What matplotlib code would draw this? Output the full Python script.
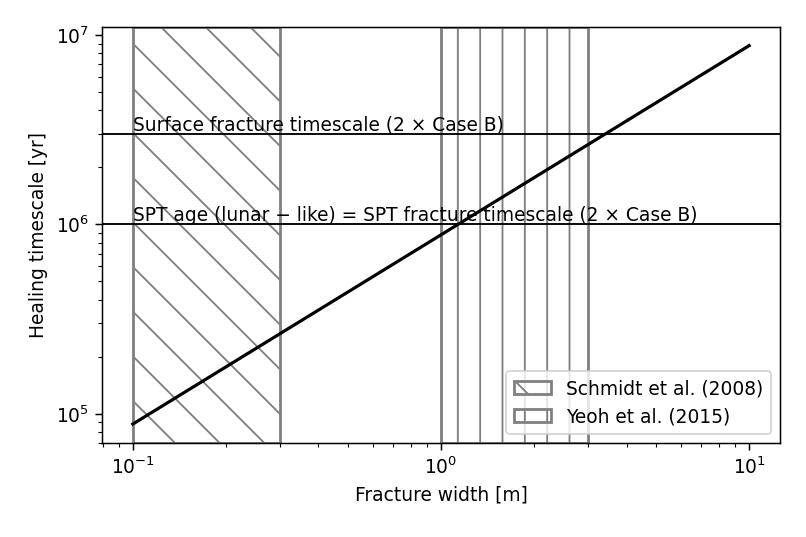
import matplotlib
matplotlib.use('Agg')
import matplotlib.pyplot as plt

# fracture width [m] vs healing timescale [yr]
width = [0.1, 10.0]
healing = [8.8e4, 8.8e6]

surface_time = 3e6
spt_time = 1e6

schmidt_range = [0.1, 0.3]
yeoh_range = [1.0, 3.0]

fig = plt.figure(figsize=(6, 4), dpi=806 / 6)
ax = fig.add_axes([0.1266, 0.175, 0.8411, 0.7747])

ax.axvspan(schmidt_range[0], schmidt_range[1], fill=False, edgecolor='gray',
           lw=1.5, hatch='\\', label='Schmidt et al. (2008)')
ax.axvspan(yeoh_range[0], yeoh_range[1], fill=False, edgecolor='gray',
           lw=1.5, hatch='|', label='Yeoh et al. (2015)')

ax.plot(width, healing, color='k', lw=1.7)

ax.axhline(surface_time, color='k', lw=1)
ax.axhline(spt_time, color='k', lw=1)
ax.text(0.1, surface_time, 'Surface fracture timescale (2 \u00d7 Case B)', va='bottom')
ax.text(0.1, spt_time,
        'SPT age (lunar \u2212 like) = SPT fracture timescale (2 \u00d7 Case B)',
        va='bottom')

ax.set_xscale('log')
ax.set_yscale('log')
ax.set_xlabel('Fracture width [m]')
ax.set_ylabel('Healing timescale [yr]')
ax.legend(loc='lower right')

fig.savefig('out.png', dpi=806 / 6)
